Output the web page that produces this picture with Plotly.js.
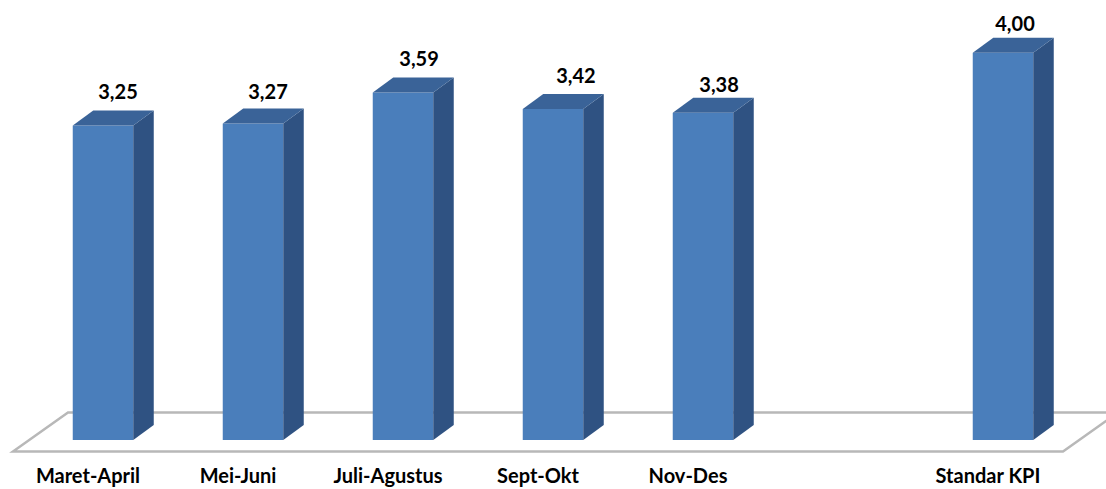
<!DOCTYPE html>
<html><head><meta charset="utf-8">
<script src="https://cdn.plot.ly/plotly-3.0.1.min.js"></script>
<style>html,body{margin:0;padding:0;background:#fff;overflow:hidden}</style>
</head><body><div id="chart" style="width:1106px;height:489px"></div>
<script>
const categories = ["Maret-April","Mei-Juni","Juli-Agustus","Sept-Okt","Nov-Des","","Standar KPI"];
const values = [3.25,3.27,3.59,3.42,3.38,null,4.00];
const labelShiftX = [0.10,0.10,0.107,0.153,0.107,0,0.08];
const labelShiftY = [0.325,0.305,0.325,0.32,0.27,0,0.28];

const W=1106,H=489,mb=27,pxX=150,pxY=96.8,x0=103,y0=440;
const xr=[-x0/pxX,(W-x0)/pxX], yr=[-(H-mb-y0)/pxY,y0/pxY];
const barW=60.5/pxX, dx=20.5/pxX, dy=15/pxY;
const idx=categories.map((_,i)=>i), hw=barW/2;

const traces=[{type:'bar',x:idx,y:values,width:barW,marker:{color:'#4a7ebb',line:{width:0}},hoverinfo:'skip',showlegend:false}];
values.forEach((v,i)=>{
  if(v==null)return;
  const l=i-hw,r=i+hw;
  traces.push({type:'scatter',mode:'lines',x:[r,r+dx,r+dx,r,r],y:[0,dy,v+dy,v,0],fill:'toself',fillcolor:'#2f5282',line:{width:0,color:'#2f5282'},hoverinfo:'skip',showlegend:false});
  traces.push({type:'scatter',mode:'lines',x:[l,l+dx,r+dx,r,l],y:[v,v+dy,v+dy,v,v],fill:'toself',fillcolor:'#3a6398',line:{width:0,color:'#3a6398'},hoverinfo:'skip',showlegend:false});
});
const shown=idx.filter(i=>values[i]!=null);
traces.push({type:'scatter',mode:'text',x:shown.map(i=>i+labelShiftX[i]),y:shown.map(i=>values[i]+labelShiftY[i]),
  text:shown.map(i=>values[i].toFixed(2).replace('.',',')),textposition:'middle center',
  textfont:{family:'Lato, sans-serif',size:20,color:'#000',weight:700},hoverinfo:'skip',showlegend:false});

const fx=v=>(v-x0)/pxX, fy=p=>(y0-p)/pxY;
const floorPath=`M ${fx(13)} ${fy(451.5)} L ${fx(68)} ${fy(412.5)} L ${fx(1118)} ${fy(412.5)} L ${fx(1063)} ${fy(451.5)} Z`;
const layout={width:W,height:H,margin:{l:0,r:0,t:0,b:mb,pad:0},paper_bgcolor:'#fff',plot_bgcolor:'#fff',showlegend:false,
  xaxis:{range:xr,tickmode:'array',tickvals:idx,ticktext:categories,showgrid:false,zeroline:false,showline:false,ticks:'',ticklabelstandoff:0,ticklabelshift:-15,
    tickangle:0,tickfont:{family:'Lato, sans-serif',size:20,color:'#000',weight:700},fixedrange:true},
  yaxis:{range:yr,visible:false,fixedrange:true},
  shapes:[{type:'path',path:floorPath,xref:'x',yref:'y',layer:'below',fillcolor:'#fff',line:{color:'#b8b8b8',width:2.5}}]};
Plotly.newPlot('chart',traces,layout,{displayModeBar:false,staticPlot:true});
</script></body></html>
